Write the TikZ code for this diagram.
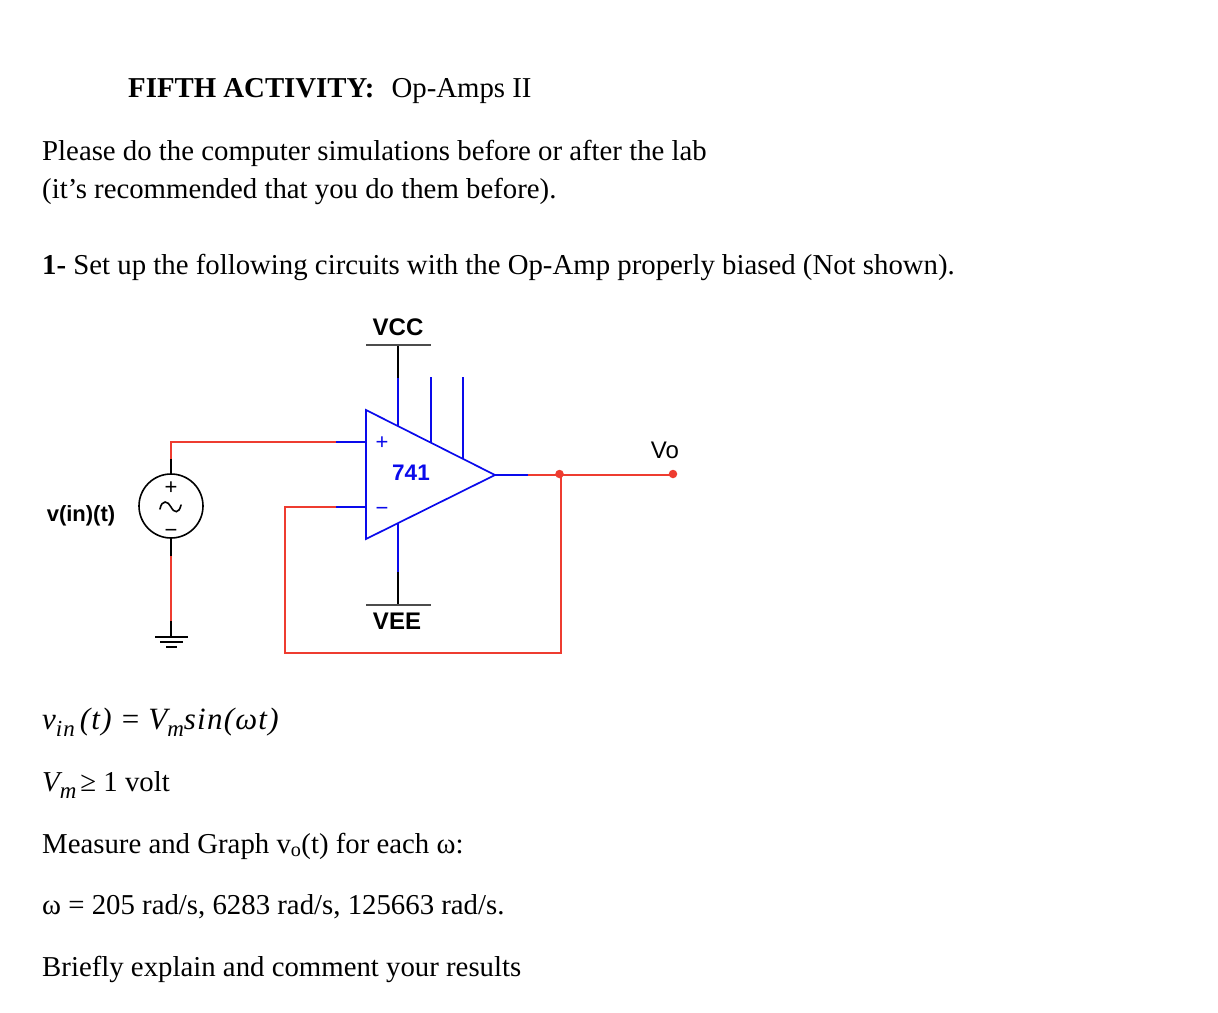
\documentclass[tikz,border=0pt]{standalone}
\usepackage{fontspec}
\setmainfont{Liberation Serif}
\setsansfont{Liberation Sans}
\newfontfamily\eqnfont[LetterSpace=4]{Liberation Serif}
\newcommand{\eqnsub}[1]{\raisebox{-7pt}{\fontsize{23}{23}\selectfont #1}}
\definecolor{wirered}{RGB}{238, 60, 48}
\definecolor{ampblue}{RGB}{10, 10, 235}
\tikzset{
    body/.style    = {anchor=base west, inner sep=0pt, font=\fontsize{28.8}{29}\selectfont},
    eqn/.style     = {anchor=base west, inner sep=0pt, font=\fontsize{31}{31}\selectfont\eqnfont\itshape},
    tag/.style     = {inner sep=0pt, font=\fontsize{24}{24}\selectfont\sffamily\bfseries},
    sign/.style    = {inner sep=0pt, font=\fontsize{22}{22}\selectfont\sffamily},
    redwire/.style = {color=wirered, line width=1.7pt},
    bluewire/.style= {color=ampblue, line width=1.7pt},
    blkwire/.style = {color=black,   line width=1.6pt},
    dot/.style     = {circle, fill=wirered, inner sep=0pt, minimum size=8.5pt},
}
\begin{document}
\begin{tikzpicture}[x=1pt, y=-1pt]
    \useasboundingbox (0,0) rectangle (1218,1012);
    % text
    \node[body] (title) at ( 128, 97.5) {\textbf{FIFTH ACTIVITY:}\hspace{10pt} Op-Amps II};
    \node[body] (introa) at ( 42,160) {Please do the computer simulations before or after the lab};
    \node[body] (introb) at ( 42,198) {(it’s recommended that you do them before).};
    \node[body] (setup) at ( 42,274) {\textbf{1-} Set up the following circuits with the Op-Amp properly biased (Not shown).};
    \node[eqn]  (vineq) at ( 42,729) {v\eqnsub{in}\,(t) \textup{=} V\eqnsub{m}sin(ωt)};
    \node[body] (vmeq) at ( 42,791) {\textit{V\eqnsub{m}}\hspace{4pt}≥ 1 volt};
    \node[body] (measure) at ( 42,853) {Measure and Graph v\textsubscript{o}(t) for each ω:};
    \node[body] (omega) at ( 42,914) {ω = 205 rad/s, 6283 rad/s, 125663 rad/s.};
    \node[body] (explain) at ( 42,976) {Briefly explain and comment your results};
    % op-amp
    \coordinate (ampt) at (366,410);
    \coordinate (ampb) at (366,539);
    \coordinate (ampo) at (495,475);
    \draw[bluewire, line join=miter] (ampt) -- (ampo) -- (ampb) -- cycle;
    \node[color=ampblue, inner sep=0pt, font=\fontsize{22.5}{22.5}\selectfont\sffamily\bfseries] (ampname) at (411,473) {741};
    \node[sign, color=ampblue] (ampplus) at (382,443.5) {+};
    \node[sign, color=ampblue] (ampminus) at (382,511) {\textminus};
    % pins
    \coordinate (vccbar) at (398,345);
    \coordinate (vccend) at (398,378);
    \coordinate (vccpin) at (398,426);
    \coordinate (veebar) at (398,605);
    \coordinate (veeend) at (398,572);
    \coordinate (veepin) at (398,523);
    \coordinate (pinat) at (431,377);
    \coordinate (pina)  at (431,443);
    \coordinate (pinbt) at (463,377);
    \coordinate (pinb)  at (463,459);
    \draw[blkwire]  (vccbar) -- (vccend);
    \draw[bluewire] (vccend) -- (vccpin);
    \draw[blkwire]  (veebar) -- (veeend);
    \draw[bluewire] (veeend) -- (veepin);
    \draw[bluewire] (pinat) -- (pina);
    \draw[bluewire] (pinbt) -- (pinb);
    \draw[color=black!70, line width=1.1pt] (366,345) -- (431,345);
    \draw[color=black!70, line width=1.1pt] (366,605) -- (431,605);
    \node[tag] (vcc) at (398,327) {VCC};
    \node[tag] (vee) at (397,621) {VEE};
    % source
    \node[circle, draw=black, line width=1.6pt, inner sep=0pt, minimum size=64pt] (vsrc) at (171,506) {};
    \node[sign] (srcplus) at (171,488) {+};
    \node[sign] (srcminus) at (171,533) {\textminus};
    \draw[blkwire, line cap=round] (160,509) .. controls (162,499) and (168,501) .. (171,507) .. controls (174,513) and (179,514) .. (181,505);
    \node[anchor=base, inner sep=0pt, font=\fontsize{22}{22}\selectfont\sffamily\bfseries] (vinlabel) at (81,521) {v(in)(t)};
    % source leads
    \coordinate (srct)  at (171,459);
    \coordinate (srctc) at (171,442);
    \coordinate (inpa)  at (336,442);
    \coordinate (inpb)  at (366,442);
    \coordinate (srcb)  at (171,556);
    \coordinate (gnda)  at (171,621);
    \coordinate (gnd)   at (171,637);
    \draw[blkwire]  (vsrc.north) -- (srct);
    \draw[redwire]  (srct) -- (srctc) -- (inpa);
    \draw[bluewire] (inpa) -- (inpb);
    \draw[blkwire]  (vsrc.south) -- (srcb);
    \draw[redwire]  (srcb) -- (gnda);
    \draw[blkwire]  (gnda) -- (gnd);
    % ground
    \draw[blkwire] (155,637) -- (188,637);
    \draw[blkwire] (160,642) -- (183,642);
    \draw[blkwire] (166,647) -- (177,647);
    % output and feedback
    \coordinate (outa) at (528,475);
    \node[dot] (junc) at (559.5,474) {};
    \node[dot] (vout) at (673,474) {};
    \coordinate (fba) at (561,653);
    \coordinate (fbb) at (285,653);
    \coordinate (fbc) at (285,507);
    \coordinate (inma) at (336,507);
    \coordinate (inmb) at (366,507);
    \draw[bluewire] (ampo) -- (outa);
    \draw[redwire]  (outa) -- (vout.center |- outa);
    \draw[redwire, line join=miter]  (561,475) -- (fba) -- (fbb) -- (fbc) -- (inma);
    \draw[bluewire] (inma) -- (inmb);
    \node[inner sep=0pt, font=\fontsize{24}{24}\selectfont\sffamily] (volabel) at (665,450) {Vo};
\end{tikzpicture}
\end{document}
